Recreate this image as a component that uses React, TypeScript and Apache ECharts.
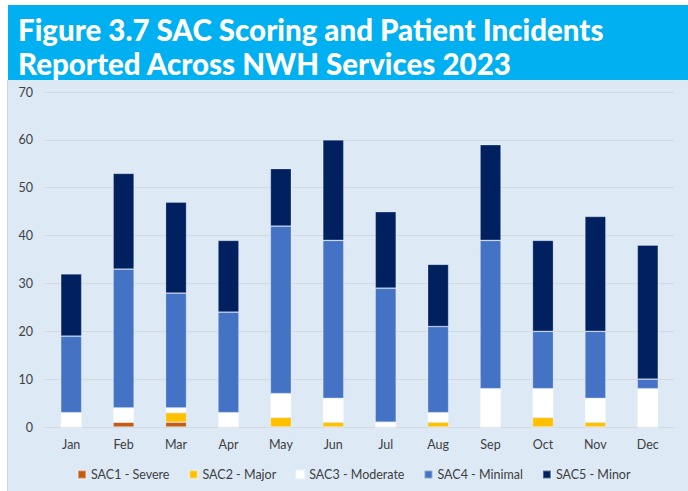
import React, { useEffect, useRef } from "react";
import * as echarts from "echarts";

const months = ["Jan", "Feb", "Mar", "Apr", "May", "Jun", "Jul", "Aug", "Sep", "Oct", "Nov", "Dec"];
const sac1 = [0, 1, 1, 0, 0, 0, 0, 0, 0, 0, 0, 0];
const sac2 = [0, 0, 2, 0, 2, 1, 0, 1, 0, 2, 1, 0];
const sac3 = [3, 3, 1, 3, 5, 5, 1, 2, 8, 6, 5, 8];
const sac4 = [16, 29, 24, 21, 35, 33, 28, 18, 31, 12, 14, 2];
const sac5 = [13, 20, 19, 15, 12, 21, 16, 13, 20, 19, 24, 28];
const yTicks = { min: 0, max: 70, interval: 10 };
const titleLines = ["Figure 3.7 SAC Scoring and Patient Incidents", "Reported Across NWH Services 2023"];

const seriesDefs = [
  { name: "SAC1 - Severe", data: sac1, color: "#c55a11" },
  { name: "SAC2 - Major", data: sac2, color: "#ffc000" },
  { name: "SAC3 - Moderate", data: sac3, color: "#ffffff" },
  { name: "SAC4 - Minimal", data: sac4, color: "#4472c4" },
  { name: "SAC5 - Minor", data: sac5, color: "#002060" },
];

export default function App() {
  const ref = useRef<HTMLDivElement>(null);
  useEffect(() => {
    if (!ref.current) return;
    const chart = echarts.init(ref.current, null, { renderer: "svg" });
    const font = "Lato, 'Open Sans', sans-serif";
    chart.setOption({
      animation: false,
      backgroundColor: "#ffffff",
      graphic: [
        { type: "rect", z: -10, shape: { x: 8, y: 80, width: 680, height: 411 }, style: { fill: "#ddeaf6" } },
        { type: "line", z: -9, shape: { x1: 7.5, y1: 80, x2: 7.5, y2: 491 }, style: { stroke: "#cfd6de", lineWidth: 1 } },
        { type: "rect", z: -10, shape: { x: 8, y: 5, width: 680, height: 75 }, style: { fill: "#00b0f0" } },
        {
          type: "text", left: 18, top: 14, z: 10,
          style: { text: titleLines[0], fill: "#ffffff", font: "900 29.5px Lato, 'Open Sans', sans-serif" },
        },
        {
          type: "text", left: 18, top: 48, z: 10,
          style: { text: titleLines[1], fill: "#ffffff", font: "900 29.5px Lato, 'Open Sans', sans-serif" },
        },
      ],
      grid: { left: 45, right: 14, top: 92, bottom: 64, containLabel: false },
      legend: {
        bottom: 5,
        left: 72,
        itemWidth: 8,
        itemHeight: 8,
        itemGap: 19,
        icon: "rect",
        textStyle: { fontFamily: font, fontSize: 12.5, color: "#404040" },
        data: seriesDefs.map((s) => s.name),
      },
      xAxis: {
        type: "category",
        data: months,
        axisLine: { show: true, lineStyle: { color: "#d4d9de", width: 1 } },
        axisTick: { show: false },
        axisLabel: { color: "#404040", fontFamily: font, fontSize: 12.5, margin: 11 },
      },
      yAxis: {
        type: "value",
        min: yTicks.min,
        max: yTicks.max,
        interval: yTicks.interval,
        axisLine: { show: false },
        axisTick: { show: false },
        axisLabel: { color: "#404040", fontFamily: font, fontSize: 12.5, margin: 12 },
        splitLine: { lineStyle: { color: "#d4d9de", width: 1 } },
      },
      series: seriesDefs.map((s) => ({
        name: s.name,
        type: "bar",
        stack: "total",
        barWidth: 21,
        data: s.data,
        itemStyle: { color: s.color, borderColor: "rgba(255,255,255,0.35)", borderWidth: 0.75 },
      })),
    });
    return () => chart.dispose();
  }, []);
  return <div ref={ref} style={{ position: "fixed", left: 0, top: 0, width: 688, height: 491 }} />;
}
